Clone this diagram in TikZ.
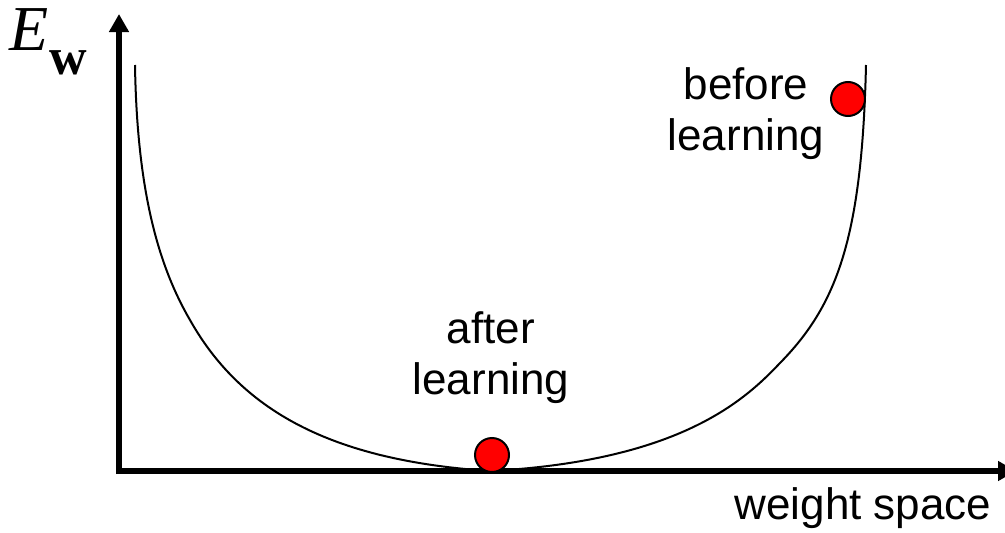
\documentclass[tikz,border=0pt]{standalone}
\usepackage{fontspec}
\setmainfont{Liberation Sans}
\newfontfamily\timesfont{Liberation Serif}
\usetikzlibrary{arrows.meta}
\tikzset{
  axis/.style={line width=6pt,-{Triangle[length=18pt,width=19pt]}},
  curve/.style={line width=2pt},
  ball/.style={circle,fill=red,draw=black,line width=2pt,minimum size=34pt,inner sep=0pt},
  lbl/.style={font=\fontsize{44}{51}\selectfont,align=center,inner sep=0pt}
}
\begin{document}
\begin{tikzpicture}[x=1pt,y=-1pt]
\clip (0,0) rectangle (1005,533);
\fill[white] (0,0) rectangle (1005,533);
\coordinate (ytip) at (119,14);
\coordinate (xtip) at (1016,471);
\coordinate (ctop) at (135,65);
\coordinate (cl) at (190,320);
\coordinate (cmin) at (490,471);
\coordinate (cr) at (780,363);
\coordinate (rtop) at (866,65);
\draw[axis] (119,474) -- (ytip);
\draw[axis] (116,471) -- (xtip);
\draw[curve] (ctop) .. controls (137,190) and (158,265) .. (cl)
  .. controls (244,416) and (340,461) .. (cmin)
  .. controls (680,461) and (745,400) .. (cr)
  .. controls (837,305) and (862,238) .. (rtop);
\node[ball] (after) at (492,455) {};
\node[ball] (before) at (848,99) {};
\node[lbl] (lafter) at (491,358) {after\\learning};
\node[lbl] (lbefore) at (746,114) {before\\learning};
\node[lbl,anchor=base] (lx) at (863,519) {weight space};
\node[inner sep=0pt,anchor=base west] (ly) at (9,50) {\timesfont\fontsize{64}{64}\selectfont\itshape E\hspace{1pt}\raisebox{-24pt}{\upshape\bfseries\fontsize{52}{52}\selectfont w}};
\end{tikzpicture}
\end{document}
